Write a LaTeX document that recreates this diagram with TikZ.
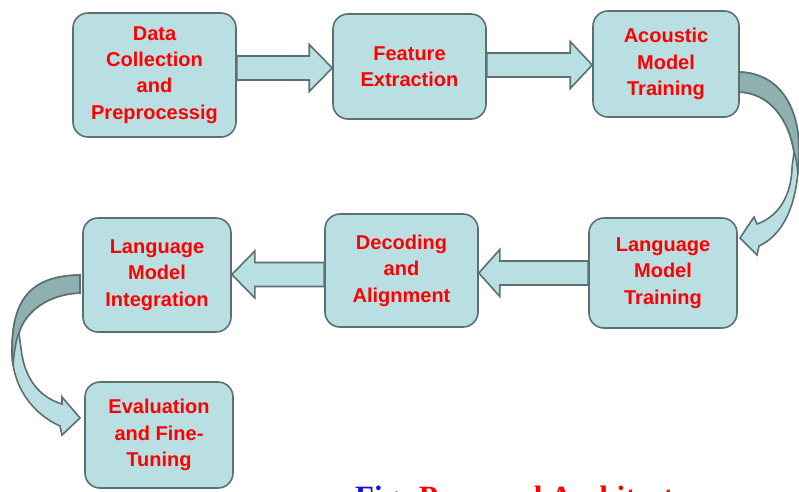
\documentclass[tikz,border=0pt]{standalone}
\usepackage{fontspec}
\setmainfont{Liberation Sans}
\newfontfamily\capfont{Liberation Serif}
\usetikzlibrary{calc}
\definecolor{boxfill}{HTML}{B9DFE3}
\definecolor{boxline}{HTML}{5C7070}
\definecolor{backfill}{HTML}{8FB0B0}
\definecolor{capblue}{HTML}{1010E0}
\tikzset{
  box/.style={draw=boxline, fill=boxfill, line width=1.6pt, rounded corners=15pt,
    align=center, text=red, font=\fontsize{20}{26.4}\selectfont\bfseries, inner sep=0pt},
  barrow/.style={draw=boxline, fill=boxfill, line width=1.6pt, line join=miter},
  backpart/.style={draw=boxline, fill=backfill, line width=1.6pt},
}
\newcommand\blockarrow[3]{%
  \draw[barrow] ($(#1)+(0,-12)$) -- ($(#2)+({-1*(#3)},-12)$) -- ($(#2)+({-1*(#3)},-23.5)$)
   -- (#2) -- ($(#2)+({-1*(#3)},23.5)$) -- ($(#2)+({-1*(#3)},12)$) -- ($(#1)+(0,12)$) -- cycle;}
\begin{document}
\begin{tikzpicture}[x=1pt,y=-1pt]
\useasboundingbox (0,0) rectangle (799,491);
% curved arrow 1 (right)
\draw[barrow] (739,72) .. controls (778,73) and (799,105) .. (799,150)
  .. controls (799,197) and (787,233) .. (759,246) -- (757,255) -- (740,238) -- (754,217) -- (757,224)
  .. controls (777,217) and (791,198) .. (792,168)
  .. controls (792.5,162) and (793.5,157) .. (794,152)
  .. controls (789,120) and (770,93) .. (739,92) -- cycle;
\draw[backpart] (739,72) .. controls (778,73) and (799,105) .. (799,150)
  .. controls (799,158) and (798.5,165) .. (798,174)
  .. controls (797,163) and (795.5,157) .. (794,152)
  .. controls (789,120) and (770,93) .. (739,92) -- cycle;
% curved arrow 2 (left)
\draw[barrow] (80,275) .. controls (30,276) and (12,300) .. (12,351)
  .. controls (12,387) and (33,414) .. (60,426) -- (62,435) -- (80,418) -- (62,397) -- (62,404)
  .. controls (39,397) and (24,378) .. (21,348)
  .. controls (20,342) and (19.5,337) .. (19,333)
  .. controls (25,312) and (48,294) .. (80,293) -- cycle;
\draw[backpart] (80,275) .. controls (30,276) and (12,300) .. (12,351)
  .. controls (12,356) and (12.5,361) .. (13,366)
  .. controls (14,352) and (16,340) .. (19,333)
  .. controls (25,312) and (48,294) .. (80,293) -- cycle;
% boxes
\node[box, minimum width=163pt, minimum height=124pt] (b1) at (154.5,75) {Data\\Collection\\and\\Preprocessig};
\node[box, minimum width=153pt, minimum height=105pt] (b2) at (409.5,66.5) {Feature\\Extraction};
\node[box, minimum width=146pt, minimum height=106pt] (b3) at (666,64) {Acoustic\\Model\\Training};
\node[box, minimum width=148pt, minimum height=110pt] (b4) at (663,273) {Language\\Model\\Training};
\node[box, minimum width=153pt, minimum height=113pt] (b5) at (401.5,270.5) {Decoding\\and\\Alignment};
\node[box, minimum width=148pt, minimum height=114pt] (b6) at (157,275) {Language\\Model\\Integration};
\node[box, minimum width=148pt, minimum height=106pt] (b7) at (159,435) {Evaluation\\and Fine-\\Tuning};
% straight block arrows
\coordinate (a1s) at (b1.east |- 0,68);
\coordinate (a1t) at (b2.west |- 0,68);
\blockarrow{a1s}{a1t}{23}
\coordinate (a2s) at (b2.east |- 0,65);
\coordinate (a2t) at (b3.west |- 0,65);
\blockarrow{a2s}{a2t}{22}
\coordinate (a3s) at (b4.west |- 0,273);
\coordinate (a3t) at (b5.east |- 0,273);
\blockarrow{a3s}{a3t}{-21}
\coordinate (a4s) at (b5.west |- 0,274.5);
\coordinate (a4t) at (b6.east |- 0,274.5);
\blockarrow{a4s}{a4t}{-23}
% caption
\node[anchor=base west, inner sep=0pt, font=\capfont\fontsize{31}{31}\selectfont\bfseries] (cap) at (355,507)
  {\textcolor{capblue}{Fig:} \textcolor{red}{Proposed Architecture}};
\end{tikzpicture}
\end{document}
